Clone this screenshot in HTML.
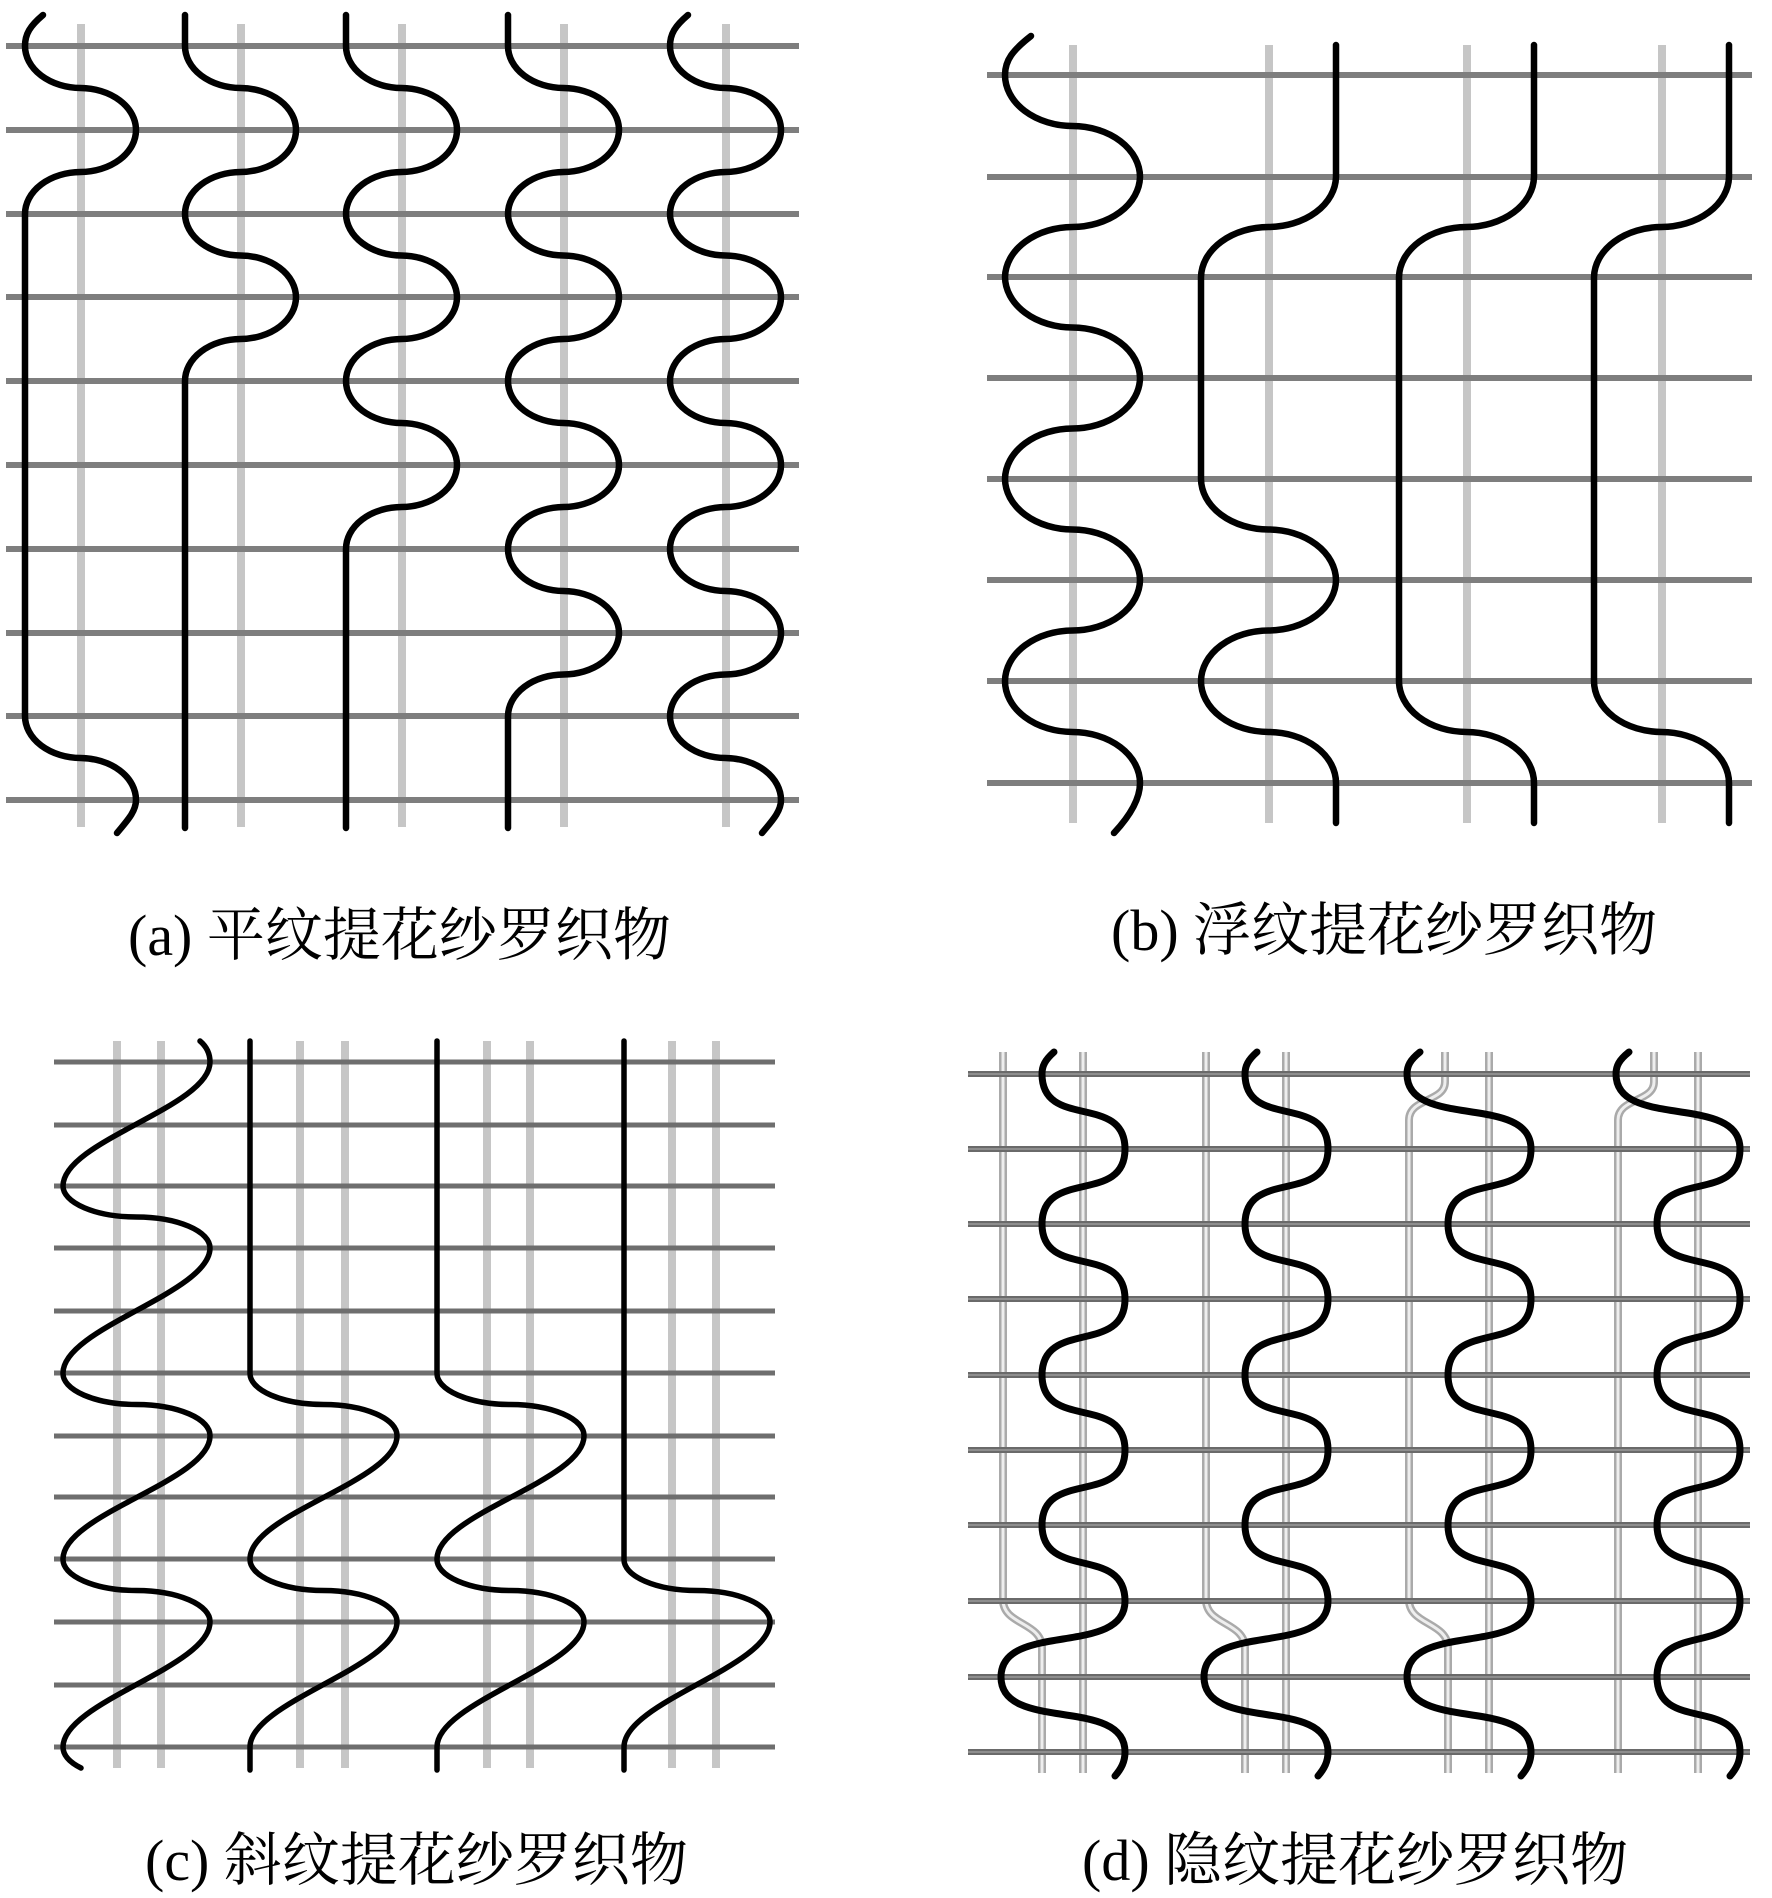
<!DOCTYPE html>
<html><head><meta charset="utf-8"><style>
html,body{margin:0;padding:0;background:#fff;}
svg{display:block;}
text{font-family:"Liberation Serif","Noto Serif CJK SC",serif;font-size:58px;fill:#000;}
</style></head><body>
<svg width="1772" height="1898" viewBox="0 0 1772 1898" xmlns="http://www.w3.org/2000/svg">
<rect width="1772" height="1898" fill="#fff"/>
<!-- Panel a -->
<g stroke="#c6c6c6" stroke-width="8" fill="none">
<path d="M81 24V827M241 24V827M402 24V827M564 24V827M726 24V827"/>
</g>
<g stroke="#7e7e7e" stroke-width="6" fill="none">
<path d="M6 46H799M6 130H799M6 214H799M6 297H799M6 381H799M6 465H799M6 549H799M6 633H799M6 716H799M6 800H799"/>
</g>
<g stroke="#000" stroke-width="6.5" fill="none" stroke-linecap="round">
<path d="M43 15 C30 26 25 34 25 46 A56 42 0 0 0 80.5 88 A56 42 0 0 1 136 130 A56 42 0 0 1 80.5 172 A56 42 0 0 0 25 214 L25 716 A56 42 0 0 0 80.5 758 A56 42 0 0 1 136 800 C136 812 126 822 117 833"/>
<path d="M185 15 L185 46 A56 42 0 0 0 240.5 88 A56 42 0 0 1 296 130 A56 42 0 0 1 240.5 172 A56 42 0 0 0 185 214 A56 42 0 0 0 240.5 255.5 A56 42 0 0 1 296 297 A56 42 0 0 1 240.5 339 A56 42 0 0 0 185 381 L185 828"/>
<path d="M346 15 L346 46 A56 42 0 0 0 401.5 88 A56 42 0 0 1 457 130 A56 42 0 0 1 401.5 172 A56 42 0 0 0 346 214 A56 42 0 0 0 401.5 255.5 A56 42 0 0 1 457 297 A56 42 0 0 1 401.5 339 A56 42 0 0 0 346 381 A56 42 0 0 0 401.5 423 A56 42 0 0 1 457 465 A56 42 0 0 1 401.5 507 A56 42 0 0 0 346 549 L346 828"/>
<path d="M508 15 L508 46 A56 42 0 0 0 563.5 88 A56 42 0 0 1 619 130 A56 42 0 0 1 563.5 172 A56 42 0 0 0 508 214 A56 42 0 0 0 563.5 255.5 A56 42 0 0 1 619 297 A56 42 0 0 1 563.5 339 A56 42 0 0 0 508 381 A56 42 0 0 0 563.5 423 A56 42 0 0 1 619 465 A56 42 0 0 1 563.5 507 A56 42 0 0 0 508 549 A56 42 0 0 0 563.5 591 A56 42 0 0 1 619 633 A56 42 0 0 1 563.5 674.5 A56 42 0 0 0 508 716 L508 828"/>
<path d="M688 15 C675 26 670 34 670 46 A56 42 0 0 0 725.5 88 A56 42 0 0 1 781 130 A56 42 0 0 1 725.5 172 A56 42 0 0 0 670 214 A56 42 0 0 0 725.5 255.5 A56 42 0 0 1 781 297 A56 42 0 0 1 725.5 339 A56 42 0 0 0 670 381 A56 42 0 0 0 725.5 423 A56 42 0 0 1 781 465 A56 42 0 0 1 725.5 507 A56 42 0 0 0 670 549 A56 42 0 0 0 725.5 591 A56 42 0 0 1 781 633 A56 42 0 0 1 725.5 674.5 A56 42 0 0 0 670 716 A56 42 0 0 0 725.5 758 A56 42 0 0 1 781 800 C781 812 771 822 762 833"/>
</g>
<text x="128" y="955">(a) 平纹提花纱罗织物</text>

<!-- Panel b -->
<g stroke="#c6c6c6" stroke-width="8" fill="none">
<path d="M1073 45V823M1269 45V823M1467 45V823M1662 45V823"/>
</g>
<g stroke="#7e7e7e" stroke-width="6" fill="none">
<path d="M987 75H1752M987 177H1752M987 277H1752M987 378H1752M987 479H1752M987 580H1752M987 681H1752M987 783H1752"/>
</g>
<g stroke="#000" stroke-width="6.5" fill="none" stroke-linecap="round">
<path d="M1031 36 C1013 50 1005 60 1005 75 A68 51 0 0 0 1072.5 126 A68 51 0 0 1 1140 177 A68 51 0 0 1 1072.5 227 A68 51 0 0 0 1005 277 A68 51 0 0 0 1072.5 327.5 A68 51 0 0 1 1140 378 A68 51 0 0 1 1072.5 428.5 A68 51 0 0 0 1005 479 A68 51 0 0 0 1072.5 529.5 A68 51 0 0 1 1140 580 A68 51 0 0 1 1072.5 630.5 A68 51 0 0 0 1005 681 A68 51 0 0 0 1072.5 732 A68 51 0 0 1 1140 783 C1140 800 1128 818 1114 833"/>
<path d="M1336 45 L1336 177 A68 51 0 0 1 1268.5 227 A68 51 0 0 0 1201 277 L1201 479 A68 51 0 0 0 1268.5 529.5 A68 51 0 0 1 1336 580 A68 51 0 0 1 1268.5 630.5 A68 51 0 0 0 1201 681 A68 51 0 0 0 1268.5 732 A68 51 0 0 1 1336 783 L1336 823"/>
<path d="M1534 45 L1534 177 A68 51 0 0 1 1466.5 227 A68 51 0 0 0 1399 277 L1399 681 A68 51 0 0 0 1466.5 732 A68 51 0 0 1 1534 783 L1534 823"/>
<path d="M1729 45 L1729 177 A68 51 0 0 1 1661.5 227 A68 51 0 0 0 1594 277 L1594 681 A68 51 0 0 0 1661.5 732 A68 51 0 0 1 1729 783 L1729 823"/>
</g>
<text x="1111" y="950">(b) 浮纹提花纱罗织物</text>

<!-- Panel c -->
<g stroke="#c6c6c6" stroke-width="8" fill="none">
<path d="M117 1041V1768M161 1041V1768M300 1041V1768M345 1041V1768M487 1041V1768M530 1041V1768M672 1041V1768M716 1041V1768"/>
</g>
<g stroke="#6e6e6e" stroke-width="5" fill="none">
<path d="M54 1062H775M54 1125H775M54 1186H775M54 1248H775M54 1311H775M54 1373H775M54 1436H775M54 1497H775M54 1559H775M54 1622H775M54 1685H775M54 1747H775"/>
</g>
<g stroke="#000" stroke-width="5.5" fill="none" stroke-linecap="round">
<path d="M200 1041 C207 1047 210 1054 210 1062 C210 1107 63 1141 63 1186 A74 31 0 0 0 136.5 1217 A74 31 0 0 1 210 1248 C210 1293 63 1328 63 1373 A74 31 0 0 0 136.5 1404.5 A74 31 0 0 1 210 1436 C210 1481 63 1514 63 1559 A74 31 0 0 0 136.5 1590.5 A74 31 0 0 1 210 1622 C210 1667 63 1702 63 1747 C63 1756 71 1763 81 1768"/>
<path d="M250 1041 L250 1373 A74 31 0 0 0 323.5 1404.5 A74 31 0 0 1 397 1436 C397 1481 250 1514 250 1559 A74 31 0 0 0 323.5 1590.5 A74 31 0 0 1 397 1622 C397 1667 250 1702 250 1747 L250 1770"/>
<path d="M437 1041 L437 1373 A74 31 0 0 0 510.5 1404.5 A74 31 0 0 1 584 1436 C584 1481 437 1514 437 1559 A74 31 0 0 0 510.5 1590.5 A74 31 0 0 1 584 1622 C584 1667 437 1702 437 1747 L437 1770"/>
<path d="M624 1041 L624 1559 A73 31 0 0 0 697 1590.5 A73 31 0 0 1 770 1622 C770 1667 624 1702 624 1747 L624 1770"/>
</g>
<text x="145" y="1880">(c) 斜纹提花纱罗织物</text>

<!-- Panel d -->
<g fill="none">
<path stroke="#aaa" stroke-width="8" d="M1083 1052V1773M1286 1052V1773M1489 1052V1773M1698 1052V1773
M1003 1052 L1003 1600 C1003 1625 1042 1622 1042 1648 L1042 1773
M1206 1052 L1206 1600 C1206 1625 1245 1622 1245 1648 L1245 1773
M1445 1052 L1445 1082 C1445 1102 1409 1098 1409 1120 L1409 1600 C1409 1625 1448 1622 1448 1648 L1448 1773
M1654 1052 L1654 1082 C1654 1102 1618 1098 1618 1120 L1618 1773"/>
<path stroke="#eee" stroke-width="3" d="M1083 1052V1773M1286 1052V1773M1489 1052V1773M1698 1052V1773
M1003 1052 L1003 1600 C1003 1625 1042 1622 1042 1648 L1042 1773
M1206 1052 L1206 1600 C1206 1625 1245 1622 1245 1648 L1245 1773
M1445 1052 L1445 1082 C1445 1102 1409 1098 1409 1120 L1409 1600 C1409 1625 1448 1622 1448 1648 L1448 1773
M1654 1052 L1654 1082 C1654 1102 1618 1098 1618 1120 L1618 1773"/>
</g>
<g stroke="#6a6a6a" stroke-width="6" fill="none">
<path d="M968 1074H1750M968 1149H1750M968 1224H1750M968 1299H1750M968 1375H1750M968 1450H1750M968 1525H1750M968 1601H1750M968 1677H1750M968 1752H1750"/>
</g>
<g stroke="#999" stroke-width="1.5" fill="none">
<path d="M968 1074H1750M968 1149H1750M968 1224H1750M968 1299H1750M968 1375H1750M968 1450H1750M968 1525H1750M968 1601H1750M968 1677H1750M968 1752H1750"/>
</g>
<g stroke="#000" stroke-width="7" fill="none" stroke-linecap="round">
<path d="M1054 1052 C1045 1060 1042 1066 1042 1074 C1042 1130 1125 1093 1125 1149 C1125 1205 1042 1168 1042 1224 C1042 1280 1125 1243 1125 1299 C1125 1355 1042 1319 1042 1375 C1042 1431 1125 1394 1125 1450 C1125 1506 1042 1469 1042 1525 C1042 1581 1125 1545 1125 1601 C1125 1657 1001 1621 1001 1677 C1001 1733 1125 1696 1125 1752 C1125 1762 1121 1769 1115 1776"/>
<path d="M1257 1052 C1248 1060 1245 1066 1245 1074 C1245 1130 1328 1093 1328 1149 C1328 1205 1245 1168 1245 1224 C1245 1280 1328 1243 1328 1299 C1328 1355 1245 1319 1245 1375 C1245 1431 1328 1394 1328 1450 C1328 1506 1245 1469 1245 1525 C1245 1581 1328 1545 1328 1601 C1328 1657 1204 1621 1204 1677 C1204 1733 1328 1696 1328 1752 C1328 1762 1324 1769 1318 1776"/>
<path d="M1420 1052 C1410 1060 1407 1066 1407 1074 C1407 1130 1531 1093 1531 1149 C1531 1205 1448 1168 1448 1224 C1448 1280 1531 1243 1531 1299 C1531 1355 1448 1319 1448 1375 C1448 1431 1531 1394 1531 1450 C1531 1506 1448 1469 1448 1525 C1448 1581 1531 1545 1531 1601 C1531 1657 1407 1621 1407 1677 C1407 1733 1531 1696 1531 1752 C1531 1762 1527 1769 1521 1776"/>
<path d="M1629 1052 C1619 1060 1616 1066 1616 1074 C1616 1130 1740 1093 1740 1149 C1740 1205 1657 1168 1657 1224 C1657 1280 1740 1243 1740 1299 C1740 1355 1657 1319 1657 1375 C1657 1431 1740 1394 1740 1450 C1740 1506 1657 1469 1657 1525 C1657 1581 1740 1545 1740 1601 C1740 1657 1657 1621 1657 1677 C1657 1733 1740 1696 1740 1752 C1740 1762 1736 1769 1730 1776"/>
</g>
<text x="1082" y="1880">(d) 隐纹提花纱罗织物</text>
</svg>
</body></html>
